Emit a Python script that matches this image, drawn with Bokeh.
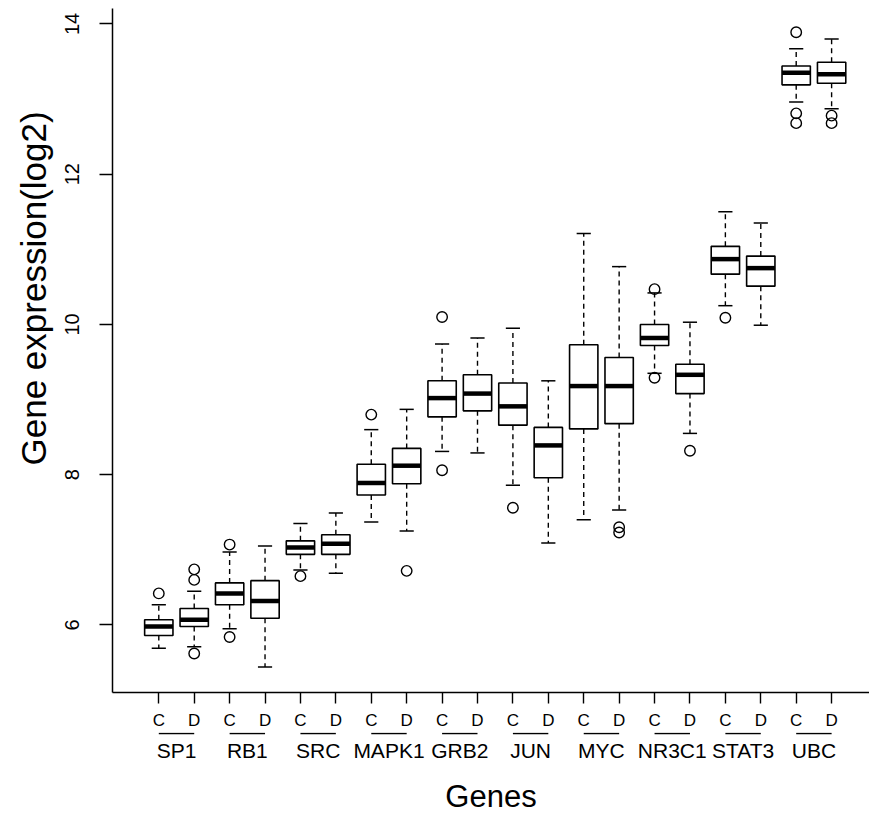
from bokeh.plotting import figure
from bokeh.models import Range1d, FixedTicker, Title
from bokeh.layouts import column
from bokeh.embed import file_html
from bokeh.resources import INLINE

# ---------------- data ----------------
genes = ["SP1", "RB1", "SRC", "MAPK1", "GRB2", "JUN", "MYC", "NR3C1", "STAT3", "UBC"]
groups = ["C", "D"]

# one entry per box, order: SP1 C, SP1 D, RB1 C, RB1 D, ...
lower_whisker = [5.69, 5.71, 5.95, 5.44, 6.73, 6.69, 7.37, 7.25, 8.31, 8.29,
                 7.86, 7.09, 7.40, 7.53, 9.35, 8.55, 10.25, 9.99, 12.96, 12.87]
q1 = [5.86, 5.98, 6.27, 6.09, 6.94, 6.94, 7.73, 7.88, 8.77, 8.85,
      8.66, 7.96, 8.61, 8.68, 9.72, 9.08, 10.67, 10.51, 13.19, 13.21]
median = [5.98, 6.07, 6.42, 6.32, 7.03, 7.08, 7.89, 8.12, 9.02, 9.08,
          8.91, 8.39, 9.18, 9.18, 9.82, 9.33, 10.87, 10.75, 13.35, 13.33]
q3 = [6.07, 6.22, 6.56, 6.59, 7.12, 7.20, 8.14, 8.35, 9.25, 9.33,
      9.22, 8.63, 9.73, 9.56, 10.00, 9.47, 11.04, 10.91, 13.44, 13.49]
upper_whisker = [6.27, 6.45, 6.97, 7.05, 7.35, 7.49, 8.60, 8.87, 9.74, 9.82,
                 9.95, 9.25, 11.21, 10.77, 10.42, 10.03, 11.50, 11.35, 13.67, 13.80]

# outliers: box number (1..20) and value
outlier_box = [1, 2, 2, 2, 3, 3, 5, 7, 8, 9, 9, 11, 14, 14, 15, 15, 16, 17, 19, 19, 19, 20, 20]
outlier_val = [6.42, 6.60, 6.74, 5.62, 7.07, 5.84, 6.65, 8.80, 6.72, 10.10, 8.06, 7.56,
               7.30, 7.23, 10.47, 9.29, 8.32, 10.09, 13.89, 12.81, 12.68, 12.78, 12.68]

y_ticks = [6, 8, 10, 12, 14]

# ---------------- derived ----------------
pos = list(range(1, 2 * len(genes) + 1))
box_labels = [g for _ in genes for g in groups]
gene_centers = [2 * i + 1.5 for i in range(len(genes))]
c_pos = [2 * i + 1 for i in range(len(genes))]
d_pos = [2 * i + 2 for i in range(len(genes))]

BOXW = 0.8
CAPW = 0.4
FONT = "Liberation Sans"

xr = Range1d(-0.3075, 21.07)

p = figure(width=869, height=732, x_range=xr, y_range=Range1d(5.101, 14.206),
           output_backend="svg", toolbar_location=None,
           min_border_left=112, min_border_right=0, min_border_top=8, min_border_bottom=40)
p.outline_line_color = None
p.xgrid.visible = False
p.ygrid.visible = False
p.background_fill_color = "white"
p.border_fill_color = "white"

# whiskers
p.segment(x0=pos, x1=pos, y0=q3, y1=upper_whisker, line_color="black", line_width=1.4, line_dash="5 4")
p.segment(x0=pos, x1=pos, y0=q1, y1=lower_whisker, line_color="black", line_width=1.4, line_dash="5 4")
# caps
p.segment(x0=[x - CAPW / 2 for x in pos], x1=[x + CAPW / 2 for x in pos],
          y0=upper_whisker, y1=upper_whisker, line_color="black", line_width=1.5)
p.segment(x0=[x - CAPW / 2 for x in pos], x1=[x + CAPW / 2 for x in pos],
          y0=lower_whisker, y1=lower_whisker, line_color="black", line_width=1.5)
# boxes
p.vbar(x=pos, bottom=q1, top=q3, width=BOXW, fill_color="white", line_color="black", line_width=1.6)
# medians
p.segment(x0=[x - BOXW / 2 for x in pos], x1=[x + BOXW / 2 for x in pos],
          y0=median, y1=median, line_color="black", line_width=4.5)
# outliers
p.scatter(x=outlier_box, y=outlier_val, marker="circle", size=10.5,
          fill_color=None, line_color="black", line_width=1.4)

# x axis (C / D ticks)
xa = p.xaxis[0]
xa.ticker = FixedTicker(ticks=pos)
xa.major_label_overrides = {x: lab for x, lab in zip(pos, box_labels)}
xa.major_tick_in = 0
xa.major_tick_out = 11
xa.minor_tick_line_color = None
xa.major_tick_line_width = 1.4
xa.axis_line_width = 1.5
xa.axis_line_color = "black"
xa.major_tick_line_color = "black"
xa.major_label_text_font = FONT
xa.major_label_text_font_size = "17px"
xa.major_label_text_color = "black"
xa.major_label_standoff = 7

# y axis
ya = p.yaxis[0]
ya.ticker = FixedTicker(ticks=y_ticks)
ya.major_tick_in = 0
ya.major_tick_out = 13
ya.minor_tick_line_color = None
ya.major_tick_line_width = 1.4
ya.axis_line_width = 1.5
ya.axis_line_color = "black"
ya.major_tick_line_color = "black"
ya.major_label_orientation = "vertical"
ya.major_label_text_font = FONT
ya.major_label_text_font_size = "20px"
ya.major_label_text_color = "black"
ya.major_label_standoff = 20

ytitle = Title(text="Gene expression(log2)", align="left", offset=227,
               vertical_align="bottom", standoff=19,
               text_font=FONT, text_font_size="35px", text_font_style="normal",
               text_color="black")
p.add_layout(ytitle, "left")

# second strip: gene group underlines + gene names + x title
p2 = figure(width=869, height=84, x_range=xr, y_range=Range1d(0, 1),
            output_backend="svg", toolbar_location=None, y_axis_location=None,
            min_border_left=112, min_border_right=0, min_border_top=0, min_border_bottom=77)
p2.outline_line_color = None
p2.xgrid.visible = False
p2.ygrid.visible = False
p2.background_fill_color = "white"
p2.border_fill_color = "white"
p2.segment(x0=c_pos, x1=d_pos, y0=[0.85] * len(genes), y1=[0.85] * len(genes),
           line_color="black", line_width=1.5)

ga = p2.xaxis[0]
ga.ticker = FixedTicker(ticks=gene_centers)
ga.major_label_overrides = {x: g for x, g in zip(gene_centers, genes)}
ga.major_tick_line_color = None
ga.major_tick_in = 0
ga.major_tick_out = 0
ga.minor_tick_line_color = None
ga.axis_line_color = None
ga.major_label_standoff = 0
ga.major_label_text_font = FONT
ga.major_label_text_font_size = "21px"
ga.major_label_text_color = "black"
ga.axis_label = "Genes"
ga.axis_label_text_font = FONT
ga.axis_label_text_font_size = "31px"
ga.axis_label_text_font_style = "normal"
ga.axis_label_text_color = "black"
ga.axis_label_standoff = 14

layout = column(p, p2, spacing=0)
open("out.html", "w").write(file_html(layout, INLINE))
